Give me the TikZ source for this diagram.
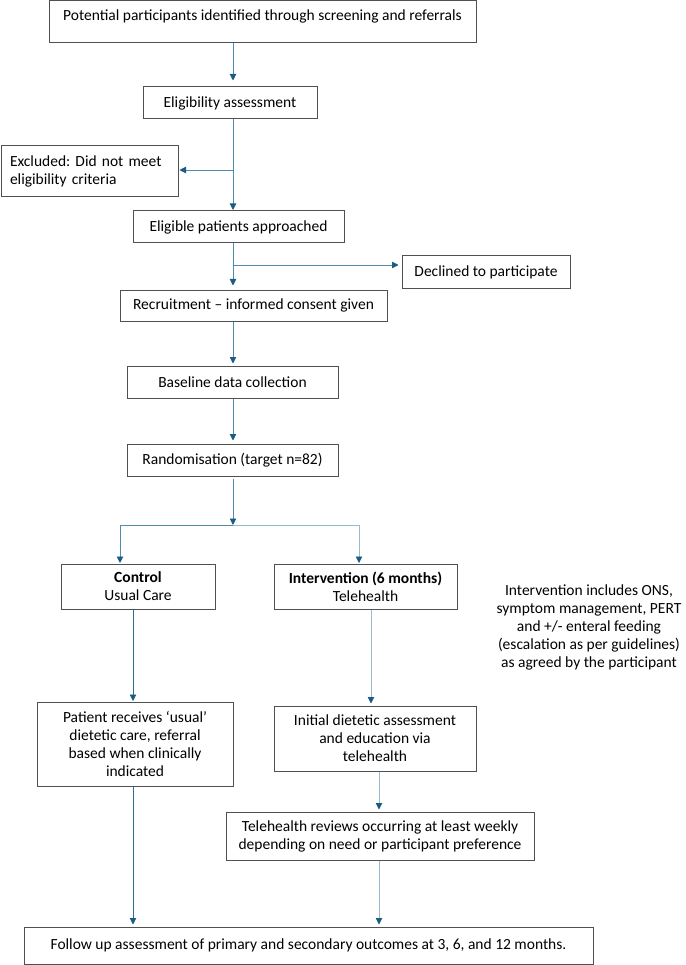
\documentclass[tikz,border=0pt]{standalone}
\usepackage{fontspec}
\setmainfont{Carlito}
\usetikzlibrary{arrows.meta}
\definecolor{lnA}{RGB}{45,110,150}
\definecolor{lnB}{RGB}{80,140,178}
\definecolor{lnC}{RGB}{150,188,210}
\definecolor{tipc}{RGB}{28,92,128}
\definecolor{bordc}{RGB}{80,80,80}
\newcommand\boxfont{\frenchspacing\fontsize{15.5}{18}\selectfont}
\begin{document}
\begin{tikzpicture}[x=1pt,y=-1pt,
  box/.style={draw=bordc, line width=1pt, inner sep=0pt, align=center, font=\boxfont},
  arr/.style={draw=#1, line width=0.9pt, -{Triangle[width=6.5pt,length=6.5pt,color=tipc]}},
  arr/.default=lnB,
  plain/.style={draw=#1, line width=0.9pt},
  plain/.default=lnB]
\useasboundingbox (0,0) rectangle (685,965);

\node[box, minimum width=427pt, minimum height=42pt] (p) at (262.5,22)
  {Potential participants identified through screening and referrals\\[-5pt]\mbox{}};
\node[box, minimum width=174pt, minimum height=32pt] (elig) at (230,103) {Eligibility assessment};
\node[box, minimum width=177pt, minimum height=51pt, text width=159pt, inner xsep=9pt, align=left] (excl) at (89.5,171)
  {Excluded: Did not meet\\eligibility criteria};
\node[box, minimum width=211pt, minimum height=32pt] (elig2) at (238.5,227) {Eligible patients approached};
\node[box, minimum width=168pt, minimum height=32pt] (decl) at (486,272) {Declined to participate};
\node[box, minimum width=267pt, minimum height=31pt] (recr) at (253.5,305.5) {Recruitment -- informed consent given};
\node[box, minimum width=211pt, minimum height=32pt] (base) at (232.5,382) {Baseline data collection};
\node[box, minimum width=211pt, minimum height=32pt] (rand) at (232.5,460) {Randomisation (target n=82)};
\node[box, minimum width=154pt, minimum height=45pt] (ctrl) at (138,586.5) {\textbf{Control}\\Usual Care};
\node[box, minimum width=183pt, minimum height=45pt] (intv) at (365.5,586.5) {\textbf{Intervention (6 months)}\\Telehealth};
\node[align=center, inner sep=0pt, font=\boxfont] (side) at (589,627)
  {Intervention includes ONS,\\symptom management, PERT\\and +/- enteral feeding\\(escalation as per guidelines)\\as agreed by the participant};
\node[box, minimum width=196pt, minimum height=84pt] (pat) at (135,744)
  {Patient receives ‘usual’\\dietetic care, referral\\based when clinically\\indicated};
\node[box, minimum width=202pt, minimum height=65pt] (init) at (375,738.5)
  {Initial dietetic assessment\\and education via\\telehealth};
\node[box, minimum width=308pt, minimum height=48pt] (tele) at (380,836)
  {Telehealth reviews occurring at least weekly\\depending on need or participant preference};
\node[box, minimum width=569pt, minimum height=37pt] (fu) at (308.5,945.5)
  {Follow up assessment of primary and secondary outcomes at 3, 6, and 12 months.};

\coordinate (cx) at (233,0);
\coordinate (b1) at (233,170);
\coordinate (b2) at (233,265);
\coordinate (sp) at (233,525);
\coordinate (sl) at (120,525);
\coordinate (sr) at (359,525);
\coordinate (cl) at (133,0);
\coordinate (ci) at (371,0);
\coordinate (ct) at (379,0);

\draw[arr, shorten >=6pt] (p.south -| cx) -- (elig.north -| cx);
\draw[arr, shorten >=0.5pt] (elig.south -| cx) -- (elig2.north -| cx);
\draw[arr, shorten >=1pt] (b1) -- (excl.east |- b1);
\draw[arr, shorten >=4pt] (elig2.south -| cx) -- (recr.north -| cx);
\draw[arr, shorten >=3pt] (b2) -- (decl.west |- b2);
\draw[arr, shorten >=2pt] (recr.south -| cx) -- (base.north -| cx);
\draw[arr, shorten >=3pt] (base.south -| cx) -- (rand.north -| cx);
\draw[arr] ([yshift=-2pt]rand.south -| cx) -- (sp);
\draw[plain] (sl) -- (sp);
\draw[plain=lnC] (sp) -- (sr);
\draw[arr, shorten >=0.5pt] (sl) -- (ctrl.north -| sl);
\draw[arr=lnC, shorten >=0.5pt] (sr) -- (intv.north -| sr);
\draw[arr=lnA, shorten >=0.5pt] (ctrl.south -| cl) -- (pat.north -| cl);
\draw[arr=lnC, shorten >=2pt] (intv.south -| ci) -- (init.north -| ci);
\draw[arr=lnC, shorten >=2pt] (init.south -| ct) -- (tele.north -| ct);
\draw[arr=lnC, shorten >=2pt] (tele.south -| ct) -- (fu.north -| ct);
\draw[arr=lnA, shorten >=2pt] (pat.south -| cl) -- (fu.north -| cl);
\end{tikzpicture}
\end{document}
